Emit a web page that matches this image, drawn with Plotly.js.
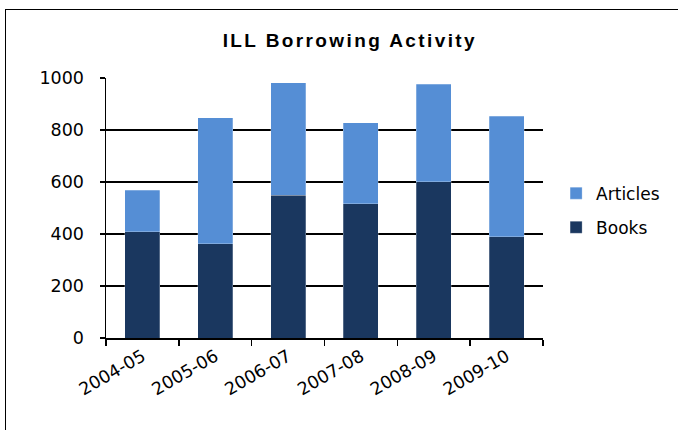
<!DOCTYPE html>
<html>
<head>
<meta charset="utf-8">
<script src="https://cdn.plot.ly/plotly-3.0.1.min.js"></script>
<style>
  html, body { margin: 0; padding: 0; background: #ffffff; }
  #wrap { position: relative; width: 678px; height: 430px; overflow: hidden; }
  #frame { position: absolute; left: 5px; top: 9px; width: 720px; height: 500px; border: 1.5px solid #000; box-sizing: border-box; pointer-events: none; }
  #chart { position: absolute; left: 0; top: 0; width: 678px; height: 430px; }
  #chart .gtitle { letter-spacing: 2.4px; }
</style>
</head>
<body>
<div id="wrap">
  <div id="chart"></div>
  <div id="frame"></div>
</div>
<script>
const categories = ["2004-05", "2005-06", "2006-07", "2007-08", "2008-09", "2009-10"];
const books = [408, 363, 550, 517, 601, 389];
const articles = [161, 484, 432, 311, 375, 464];
const yTicks = [0, 200, 400, 600, 800, 1000];

const traces = [
  {
    type: "bar", name: "Books", x: categories, y: books, legendrank: 2, legendgroup: "b",
    marker: { color: "#1a375f", line: { color: "rgba(255,255,255,0.5)", width: 0.5 } },
    hoverinfo: "skip"
  },
  {
    type: "bar", name: "Articles", x: categories, y: articles, legendrank: 1, legendgroup: "a",
    marker: { color: "#558ed5", line: { color: "rgba(255,255,255,0.5)", width: 0.5 } },
    hoverinfo: "skip"
  }
];

const layout = {
  width: 678, height: 430,
  margin: { l: 106, r: 135, t: 78, b: 92, autoexpand: false },
  paper_bgcolor: "#ffffff", plot_bgcolor: "#ffffff",
  barmode: "stack", bargap: 0.52,
  font: { family: "DejaVu Sans, Verdana, sans-serif", color: "#000", size: 17 },
  title: {
    text: "<b>ILL Borrowing Activity</b>",
    font: { family: "Liberation Sans, Arial, sans-serif", size: 19, color: "#000" },
    x: 0.516, xanchor: "center", xref: "container", y: 0.907, yanchor: "middle"
  },
  xaxis: {
    type: "category", tickangle: -30, tickson: "boundaries",
    ticks: "outside", ticklen: 6, tickcolor: "#000", tickwidth: 1.5,
    showline: true, linecolor: "#000", linewidth: 1.5,
    showgrid: false, tickfont: { size: 17.5 }
  },
  yaxis: {
    range: [0, 1000], tickvals: yTicks, ticktext: yTicks.map(String),
    ticks: "outside", ticklen: 5, tickcolor: "#000", tickwidth: 1.5,
    showline: true, linecolor: "#000", linewidth: 1.5,
    showgrid: true, gridcolor: "#000", gridwidth: 1.5,
    zeroline: false, ticklabelstandoff: 12, tickfont: { size: 17.5 }
  },
  legend: {
    x: 1.03, xanchor: "left", y: 0.49, yanchor: "middle",
    traceorder: "grouped", tracegroupgap: 9,
    font: { size: 17 }, bgcolor: "rgba(0,0,0,0)", itemwidth: 30
  },
  showlegend: true
};

Plotly.newPlot("chart", traces, layout, { displayModeBar: false, staticPlot: true });
</script>
</body>
</html>
